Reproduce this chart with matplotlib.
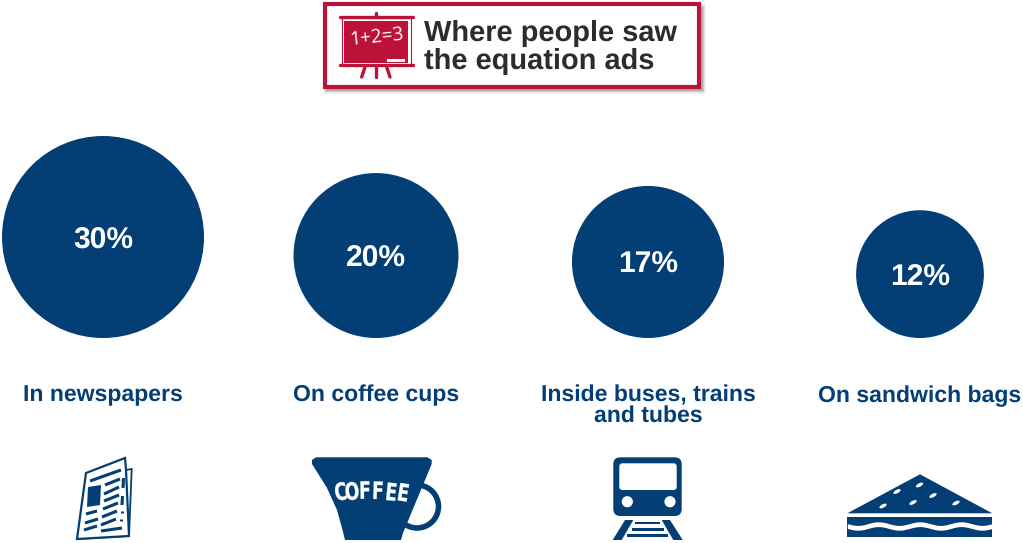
import numpy as np
import matplotlib
matplotlib.use('Agg')
import matplotlib.pyplot as plt
from matplotlib.patches import Circle, Rectangle, Polygon, FancyBboxPatch, Ellipse, PathPatch
from matplotlib.textpath import TextPath
from matplotlib.font_manager import FontProperties
from matplotlib.transforms import Affine2D

categories = ['In newspapers', 'On coffee cups', 'Inside buses, trains\nand tubes', 'On sandwich bags']
percent = [30, 20, 17, 12]
title_lines = ['Where people saw', 'the equation ads']

NAVY = '#033f75'
RED = '#bd1237'
DARK = '#2c2c2c'

plt.rcParams['font.family'] = ['Liberation Sans', 'DejaVu Sans']
plt.rcParams['text.hinting'] = 'no_hinting'
plt.rcParams['text.hinting_factor'] = 1


def draw_title_box(ax):
    # soft shadow, then the box on top
    for grow, alpha in [(3.5, 0.06), (2.5, 0.10), (1.5, 0.16), (0.5, 0.25)]:
        ax.add_patch(Rectangle((326 - grow, 7 - grow), 376 + 2 * grow, 83 + 2 * grow,
                               fc='#555555', ec='none', alpha=alpha))
    ax.add_patch(Rectangle((324.5, 3.5), 374.5, 83, fc='white', ec=RED, lw=3))

    # blackboard
    ax.add_patch(Rectangle((344.3, 20.7), 64, 42, fc=RED, ec='none'))
    ax.add_patch(Rectangle((341.5, 17.5), 69, 47.5, fc='none', ec=RED, lw=0.8))
    ax.plot([339.5, 412.5], [17.3, 17.3], color=RED, lw=2.4, solid_capstyle='round')
    ax.plot([339.5, 412.5], [65, 65], color=RED, lw=2.4, solid_capstyle='round')
    ax.plot([375.7, 375.7], [12.5, 17], color=RED, lw=2.4, solid_capstyle='round')
    for x0, x1 in [(365, 361.7), (375.7, 375.7), (386.7, 390)]:
        ax.plot([x0, x1], [67, 77], color=RED, lw=2.4, solid_capstyle='round')
    ax.add_patch(Rectangle((387.3, 58.5), 17.5, 3.8, fc='white', ec='none'))
    ax.text(376.5, 37.5, '1+2=3', color='white', fontsize=14, family='Open Sans',
            rotation=6, ha='center', va='center')

    ax.text(424, 41, title_lines[0], color=DARK, fontsize=21, fontweight='bold', va='baseline')
    ax.text(423.5, 69, title_lines[1], color=DARK, fontsize=21, fontweight='bold', va='baseline')


def draw_newspaper(ax):
    ax.add_patch(Polygon([(126, 470), (131.7, 469), (129, 536), (77, 539)], fc='white', ec=NAVY, lw=1.3))
    ax.add_patch(Polygon([(86, 473), (125, 458), (126, 470), (129, 536), (77, 539)], fc='white', ec=NAVY, lw=1.6))
    ax.add_patch(Polygon([(88, 487), (101, 485), (100, 505), (87, 507)], fc=NAVY, ec='none'))
    strokes = [
        ((90, 481), (121, 470)), ((105, 485), (120, 479)), ((104, 494), (119, 487)),
        ((104, 501), (119, 495)), ((103, 509), (118, 503)), ((86, 514), (97, 511)),
        ((102, 517), (117, 511)), ((85, 523), (98, 519)), ((101, 525), (116, 519)),
        ((84, 530), (97, 526)), ((101, 531), (122, 528)), ((123.5, 478), (123, 488)),
        ((122.5, 496), (122, 505)), ((122, 511), (122, 513)), ((121, 519), (121, 521)),
    ]
    for p0, p1 in strokes:
        ax.plot([p0[0], p1[0]], [p0[1], p1[1]], color=NAVY, lw=2.2, solid_capstyle='butt')


def draw_coffee(ax):
    ax.add_patch(Circle((417, 506.5), 21.5, fc='white', ec=NAVY, lw=4))
    cup = [(316, 457.3), (427.5, 457.3), (431.7, 460), (431.7, 464), (403, 533), (401, 540),
           (345, 540), (342, 528), (337, 510), (327, 488), (312, 464), (312, 460)]
    ax.add_patch(Polygon(cup, fc=NAVY, ec='none'))
    # narrow lettering bent along the cup front, built from glyph outlines
    letters = 'COFFEE'
    xs = [340.5, 352, 365, 378, 391.5, 403.5]
    ys = [491.3, 491, 490, 490.3, 491.7, 492.3]
    rots = [-8, -5, -1, 2, 6, 9]
    fp = FontProperties(family='DejaVu Sans', weight='bold')
    for ch, x, y, r in zip(letters, xs, ys, rots):
        tp = TextPath((0, 0), ch, size=24, prop=fp)
        box = tp.get_extents()
        tf = (Affine2D().translate(-box.x0 - box.width / 2, -box.y0 - box.height / 2)
              .scale(0.72, -1.0).rotate_deg(r).translate(x, y))
        ax.add_patch(PathPatch(tf.transform_path(tp), fc='white', ec='white', lw=0.2))


def draw_train(ax):
    ax.add_patch(FancyBboxPatch((617.3, 461.3), 60.4, 50.7, boxstyle='round,pad=4,rounding_size=7',
                                fc=NAVY, ec='none'))
    ax.add_patch(FancyBboxPatch((621.3, 465.3), 53.4, 22.7, boxstyle='round,pad=2,rounding_size=3',
                                fc='white', ec='none'))
    for x in (627.3, 670):
        ax.add_patch(Circle((x, 501.7), 5.6, fc='white', ec='none'))
    ax.add_patch(Polygon([(625, 520), (633.3, 520), (621.7, 540), (612.7, 540)], fc=NAVY, ec='none'))
    ax.add_patch(Polygon([(661.7, 520), (670, 520), (682.7, 540), (673.3, 540)], fc=NAVY, ec='none'))
    for x0, x1, y0, y1 in [(635, 660, 521.7, 524.3), (631.7, 664, 527.7, 530.7), (627.3, 668.3, 534.3, 537.3)]:
        ax.add_patch(Rectangle((x0, y0), x1 - x0, y1 - y0, fc=NAVY, ec='none'))


def draw_sandwich(ax):
    ax.add_patch(Polygon([(847.3, 513.3), (920, 474.3), (992.3, 513.3)], fc=NAVY, ec='none'))
    ax.add_patch(Rectangle((847.3, 517.3), 145, 19.4, fc=NAVY, ec='none'))
    # filling between the two bread layers
    x = np.linspace(847.3, 992.3, 120)
    wave = 526 + 1.8 * np.sin((x - 847.3) / 145 * 2 * np.pi * 3.5)
    ax.fill_between(x, wave - 2.4, wave + 2.4, color='white', lw=0)
    for cx, cy in [(919, 485), (896.5, 491.5), (932.5, 495.5), (912.5, 502.5), (882.5, 506), (955.5, 503)]:
        ax.add_patch(Ellipse((cx + 0.5, cy), 8, 3.4, angle=-28, fc='white', ec='none'))


def main():
    fig = plt.figure(figsize=(10.23, 5.43), dpi=100)
    ax = fig.add_axes([0, 0, 1, 1])
    ax.set_xlim(0, 1023)
    ax.set_ylim(543, 0)
    ax.set_aspect('equal')
    ax.axis('off')

    draw_title_box(ax)

    # circle area follows the percentage, all sitting on one line
    centers = [103, 376, 648, 920]
    scale = 18.44
    base = 338
    for cx, pct, label in zip(centers, percent, categories):
        r = scale * np.sqrt(pct)
        cy = base - r
        ax.add_patch(Circle((cx, cy), r, fc=NAVY, ec='none'))
        ax.text(cx, cy + 3.5, '%d%%' % pct, color='white', fontsize=21.5, fontweight='bold',
                ha='center', va='center')
        ax.text(cx, 385, label, color=NAVY, fontsize=16.8, fontweight='bold', ha='center', va='top',
                linespacing=0.95)

    draw_newspaper(ax)
    draw_coffee(ax)
    draw_train(ax)
    draw_sandwich(ax)

    fig.savefig('out.png', dpi=100, facecolor='white')


if __name__ == '__main__':
    main()
